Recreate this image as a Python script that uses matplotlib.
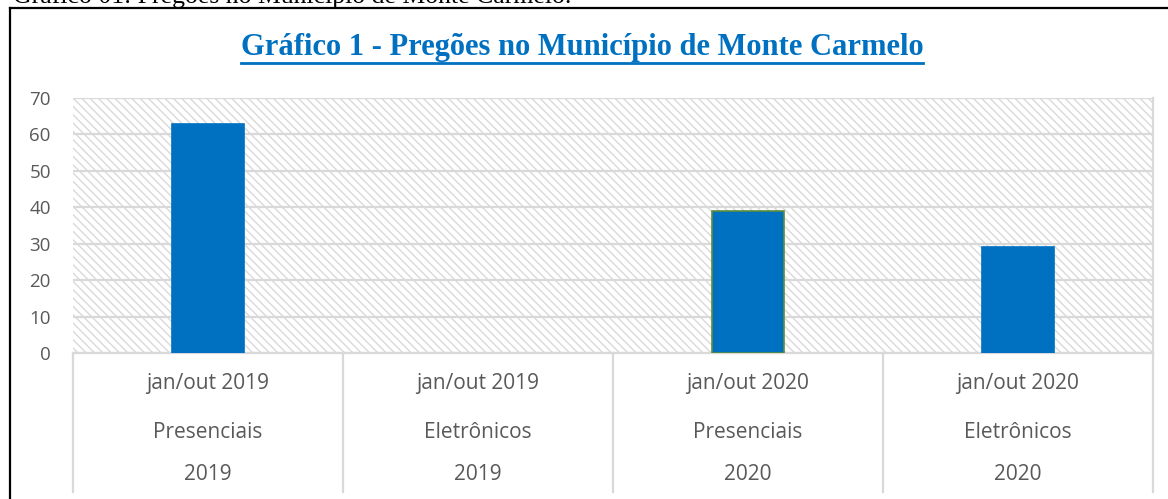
import matplotlib.pyplot as plt
import matplotlib.transforms as mtransforms
from matplotlib.lines import Line2D
from matplotlib.patches import Rectangle

periods = ['jan/out 2019', 'jan/out 2019', 'jan/out 2020', 'jan/out 2020']
types = ['Presenciais', 'Eletrônicos', 'Presenciais', 'Eletrônicos']
years = ['2019', '2019', '2020', '2020']
values = [63, 0, 39, 29]

W, H = 1168, 499
blue = '#0070C0'
grid = '#d9d9d9'
txt = '#595959'
sans = ['Open Sans', 'DejaVu Sans']
serif = ['Liberation Serif', 'DejaVu Serif']

plt.rcParams['hatch.linewidth'] = 1.0
fig = plt.figure(figsize=(W / 100, H / 100), dpi=100)
ax = fig.add_axes([73 / W, 1 - 353 / H, (1153 - 73) / W, (353 - 98) / H])

# hatched plot area
ax.patch.set_visible(False)
bg = Rectangle((0, 0), 1, 1, transform=ax.transAxes, facecolor='white',
               edgecolor=grid, hatch='\\\\\\\\', linewidth=0, zorder=0)
ax.add_patch(bg)

x = list(range(len(values)))
edges = [blue, blue, '#5B8C3A', blue]
lws = [1.2 if v > 0 else 0 for v in values]
ax.bar(x, values, width=0.27, color=blue, edgecolor=edges, linewidth=lws, zorder=3)

ax.set_xlim(-0.5, len(values) - 0.5)
ax.set_ylim(0, 70)
ax.set_yticks(range(0, 71, 10))
ax.yaxis.grid(True, color=grid, linewidth=1.6, zorder=1)
ax.set_axisbelow(True)
ax.tick_params(axis='y', length=0, pad=16, labelsize=13.5, labelcolor=txt)
ax.set_xticks([])
for lab in ax.get_yticklabels():
    lab.set_family(sans)
for s in ax.spines.values():
    s.set_visible(False)
ax.plot([-0.5, 3.5], [0, 0], color=grid, linewidth=1.6, zorder=2, clip_on=False)

# category labels with separators
tr = mtransforms.blended_transform_factory(ax.transData, ax.transAxes)
ph = 353 - 98
row_y = [(353 - 384) / ph, (353 - 432) / ph, (353 - 475) / ph]
for i in x:
    for yy, s in zip(row_y, [periods[i], types[i], years[i]]):
        ax.text(i, yy, s, transform=tr, ha='center', va='center',
                fontsize=15, color=txt, family=sans)
for b in [-0.5, 0.5, 1.5, 2.5, 3.5]:
    ax.plot([b, b], [0, (353 - 492) / ph], transform=tr, color=grid,
            linewidth=1.6, clip_on=False)
ax.plot([3.5, 3.5], [0, 1], color=grid, linewidth=1.6, clip_on=False,
        transform=tr)

# title with underline
t = fig.text(582 / W, 1 - 47 / H, 'Gráfico 1 - Pregões no Município de Monte Carmelo',
             ha='center', va='center', fontsize=22, fontweight='bold',
             color=blue, family=serif)
fig.canvas.draw()
bb = t.get_window_extent()
uy = (H - 63) / H
fig.add_artist(Line2D([bb.x0 / W, bb.x1 / W], [uy, uy], color=blue, linewidth=2))

# caption above, mostly cut off
fig.text(13 / W, 1 - 3 / H, 'Gráfico 01: Pregões no Município de Monte Carmelo.',
         ha='left', va='baseline', fontsize=18.5, color='black', family=serif)

# outer frame
fy = 1 - 8 / H
fig.add_artist(Line2D([10 / W, 1], [fy, fy], color='black', linewidth=1.6))
fig.add_artist(Line2D([10 / W, 10 / W], [0, fy], color='black', linewidth=1.6))

fig.savefig('out.png', dpi=100)
